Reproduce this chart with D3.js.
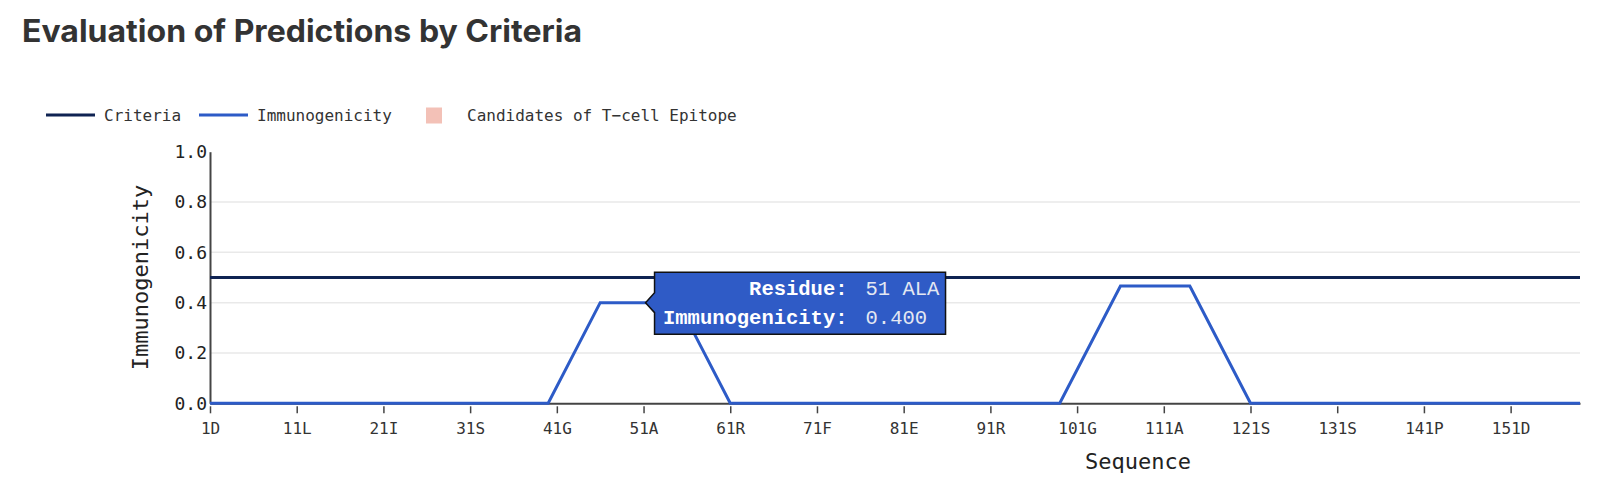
<!DOCTYPE html>
<html>
<head>
<meta charset="utf-8">
<script src="https://cdn.jsdelivr.net/npm/d3@7"></script>
<style>
  html, body { margin: 0; padding: 0; background: #fff; }
  svg text { font-family: "DejaVu Sans Mono", monospace; }
</style>
</head>
<body>
<script>
// chart data
var residues = [1, 40, 46, 55, 61, 99, 106, 114, 121, 159];
var immunogenicity = [0, 0, 0.4, 0.4, 0, 0, 0.466, 0.466, 0, 0];
var criteria = 0.5;
var tickResidues = [1, 11, 21, 31, 41, 51, 61, 71, 81, 91, 101, 111, 121, 131, 141, 151];
var tickLabels = ['1D', '11L', '21I', '31S', '41G', '51A', '61R', '71F', '81E', '91R', '101G', '111A', '121S', '131S', '141P', '151D'];
var yTicks = [0, 0.2, 0.4, 0.6, 0.8, 1.0];
var hovered = { residue: 51, name: 'ALA', value: 0.4 };

var width = 1600, height = 489;
// plot area (note: "top" is reserved on window, so use other names)
var plotLeft = 210, plotRight = 1580, plotTop = 151.7, plotBottom = 403.3;

var svg = d3.select('body').append('svg')
  .attr('width', width)
  .attr('height', height);

// title
svg.append('text')
  .attr('x', 22)
  .attr('y', 41.5)
  .attr('textLength', 560)
  .attr('lengthAdjust', 'spacingAndGlyphs')
  .style('font-family', 'Inter, sans-serif')
  .style('font-weight', 700)
  .style('font-size', '31px')
  .style('fill', '#333')
  .text('Evaluation of Predictions by Criteria');

// legend
var legend = svg.append('g').attr('class', 'legend');
legend.append('line').attr('x1', 46).attr('x2', 95).attr('y1', 115).attr('y2', 115)
  .attr('stroke', '#0f2352').attr('stroke-width', 3);
legend.append('text').attr('x', 104).attr('y', 120.5).style('font-size', '16px').style('fill', '#333').text('Criteria');
legend.append('line').attr('x1', 199).attr('x2', 248).attr('y1', 115).attr('y2', 115)
  .attr('stroke', '#2d5bc7').attr('stroke-width', 3);
legend.append('text').attr('x', 257).attr('y', 120.5).style('font-size', '16px').style('fill', '#333').text('Immunogenicity');
legend.append('rect').attr('x', 426).attr('y', 107.5).attr('width', 16).attr('height', 16)
  .attr('fill', '#f3c1b7');
legend.append('text').attr('x', 467).attr('y', 120.5).style('font-size', '16px').style('fill', '#333').text('Candidates of T\u2212cell Epitope');

// scales
var x = d3.scaleLinear().domain([1, 159]).range([plotLeft, plotRight]);
var y = d3.scaleLinear().domain([0, 1]).range([plotBottom, plotTop]);

// gridlines
svg.append('g').selectAll('line')
  .data(yTicks.filter(function(d) { return d > 0 && d < 1; }))
  .enter().append('line')
  .attr('x1', plotLeft).attr('x2', plotRight)
  .attr('y1', function(d) { return y(d); })
  .attr('y2', function(d) { return y(d); })
  .attr('stroke', '#e9e9e9').attr('stroke-width', 1.5);

// y axis
var yAxis = svg.append('g')
  .attr('transform', 'translate(' + plotLeft + ',0)')
  .call(d3.axisLeft(y).tickValues(yTicks).tickFormat(d3.format('.1f')).tickSize(0).tickPadding(3));
yAxis.select('.domain').attr('stroke', '#444').attr('stroke-width', 2);
yAxis.selectAll('text').style('font-size', '18px').style('fill', '#222')
  .style('font-family', '"DejaVu Sans Mono", monospace');

// x axis
var xAxis = svg.append('g')
  .attr('transform', 'translate(0,' + plotBottom + ')')
  .call(d3.axisBottom(x).tickValues(tickResidues)
    .tickFormat(function(d, i) { return tickLabels[i]; })
    .tickSizeOuter(0));
xAxis.select('.domain').attr('stroke', '#444').attr('stroke-width', 2);
xAxis.selectAll('.tick line').attr('y1', 3).attr('y2', 10).attr('stroke', '#444').attr('stroke-width', 1.5);
xAxis.selectAll('.tick text').attr('y', 31).attr('dy', null)
  .style('font-size', '16px').style('fill', '#333')
  .style('font-family', '"DejaVu Sans Mono", monospace');

// axis titles
svg.append('text')
  .attr('transform', 'translate(148,277.5) rotate(-90)')
  .attr('text-anchor', 'middle')
  .style('font-size', '22px').style('fill', '#222')
  .text('Immunogenicity');
svg.append('text')
  .attr('x', 1138).attr('y', 469)
  .attr('text-anchor', 'middle')
  .style('font-size', '22px').style('fill', '#222')
  .text('Sequence');

// criteria line
svg.append('line')
  .attr('x1', plotLeft).attr('x2', plotRight)
  .attr('y1', y(criteria)).attr('y2', y(criteria))
  .attr('stroke', '#0f2352').attr('stroke-width', 3);

// immunogenicity line
var line = d3.line()
  .x(function(d, i) { return x(residues[i]); })
  .y(function(d) { return y(d); });
svg.append('path')
  .datum(immunogenicity)
  .attr('d', line)
  .attr('fill', 'none')
  .attr('stroke', '#2d5bc7')
  .attr('stroke-width', 3)
  .attr('stroke-linejoin', 'miter');

// tooltip for the hovered residue
var px = x(hovered.residue), py = y(hovered.value);
var bx = px + 11, by = py - 30.5, bw = 291, bh = 62;
var tip = svg.append('g').attr('class', 'tooltip');
tip.append('path')
  .attr('d', 'M' + bx + ',' + by + 'H' + (bx + bw) + 'V' + (by + bh) + 'H' + bx +
    'V' + (py + 10) + 'L' + (px + 2) + ',' + py + 'L' + bx + ',' + (py - 10) + 'Z')
  .attr('fill', '#2f5bc6')
  .attr('stroke', '#111')
  .attr('stroke-width', 1.5);
var rows = [['Residue:', hovered.residue + ' ' + hovered.name], ['Immunogenicity:', hovered.value.toFixed(3)]];
rows.forEach(function(r, i) {
  var ty = by + 23 + i * 29;
  tip.append('text').attr('x', bx + 193).attr('y', ty).attr('text-anchor', 'end')
    .style('font-family', '"Courier New", "Liberation Mono", monospace')
    .style('font-weight', 700).style('font-size', '20.5px').style('fill', '#fff')
    .text(r[0]);
  tip.append('text').attr('x', bx + 211).attr('y', ty)
    .style('font-family', '"Courier New", "Liberation Mono", monospace')
    .style('font-size', '20.5px').style('fill', '#e4e8f2')
    .text(r[1]);
});
</script>
</body>
</html>
